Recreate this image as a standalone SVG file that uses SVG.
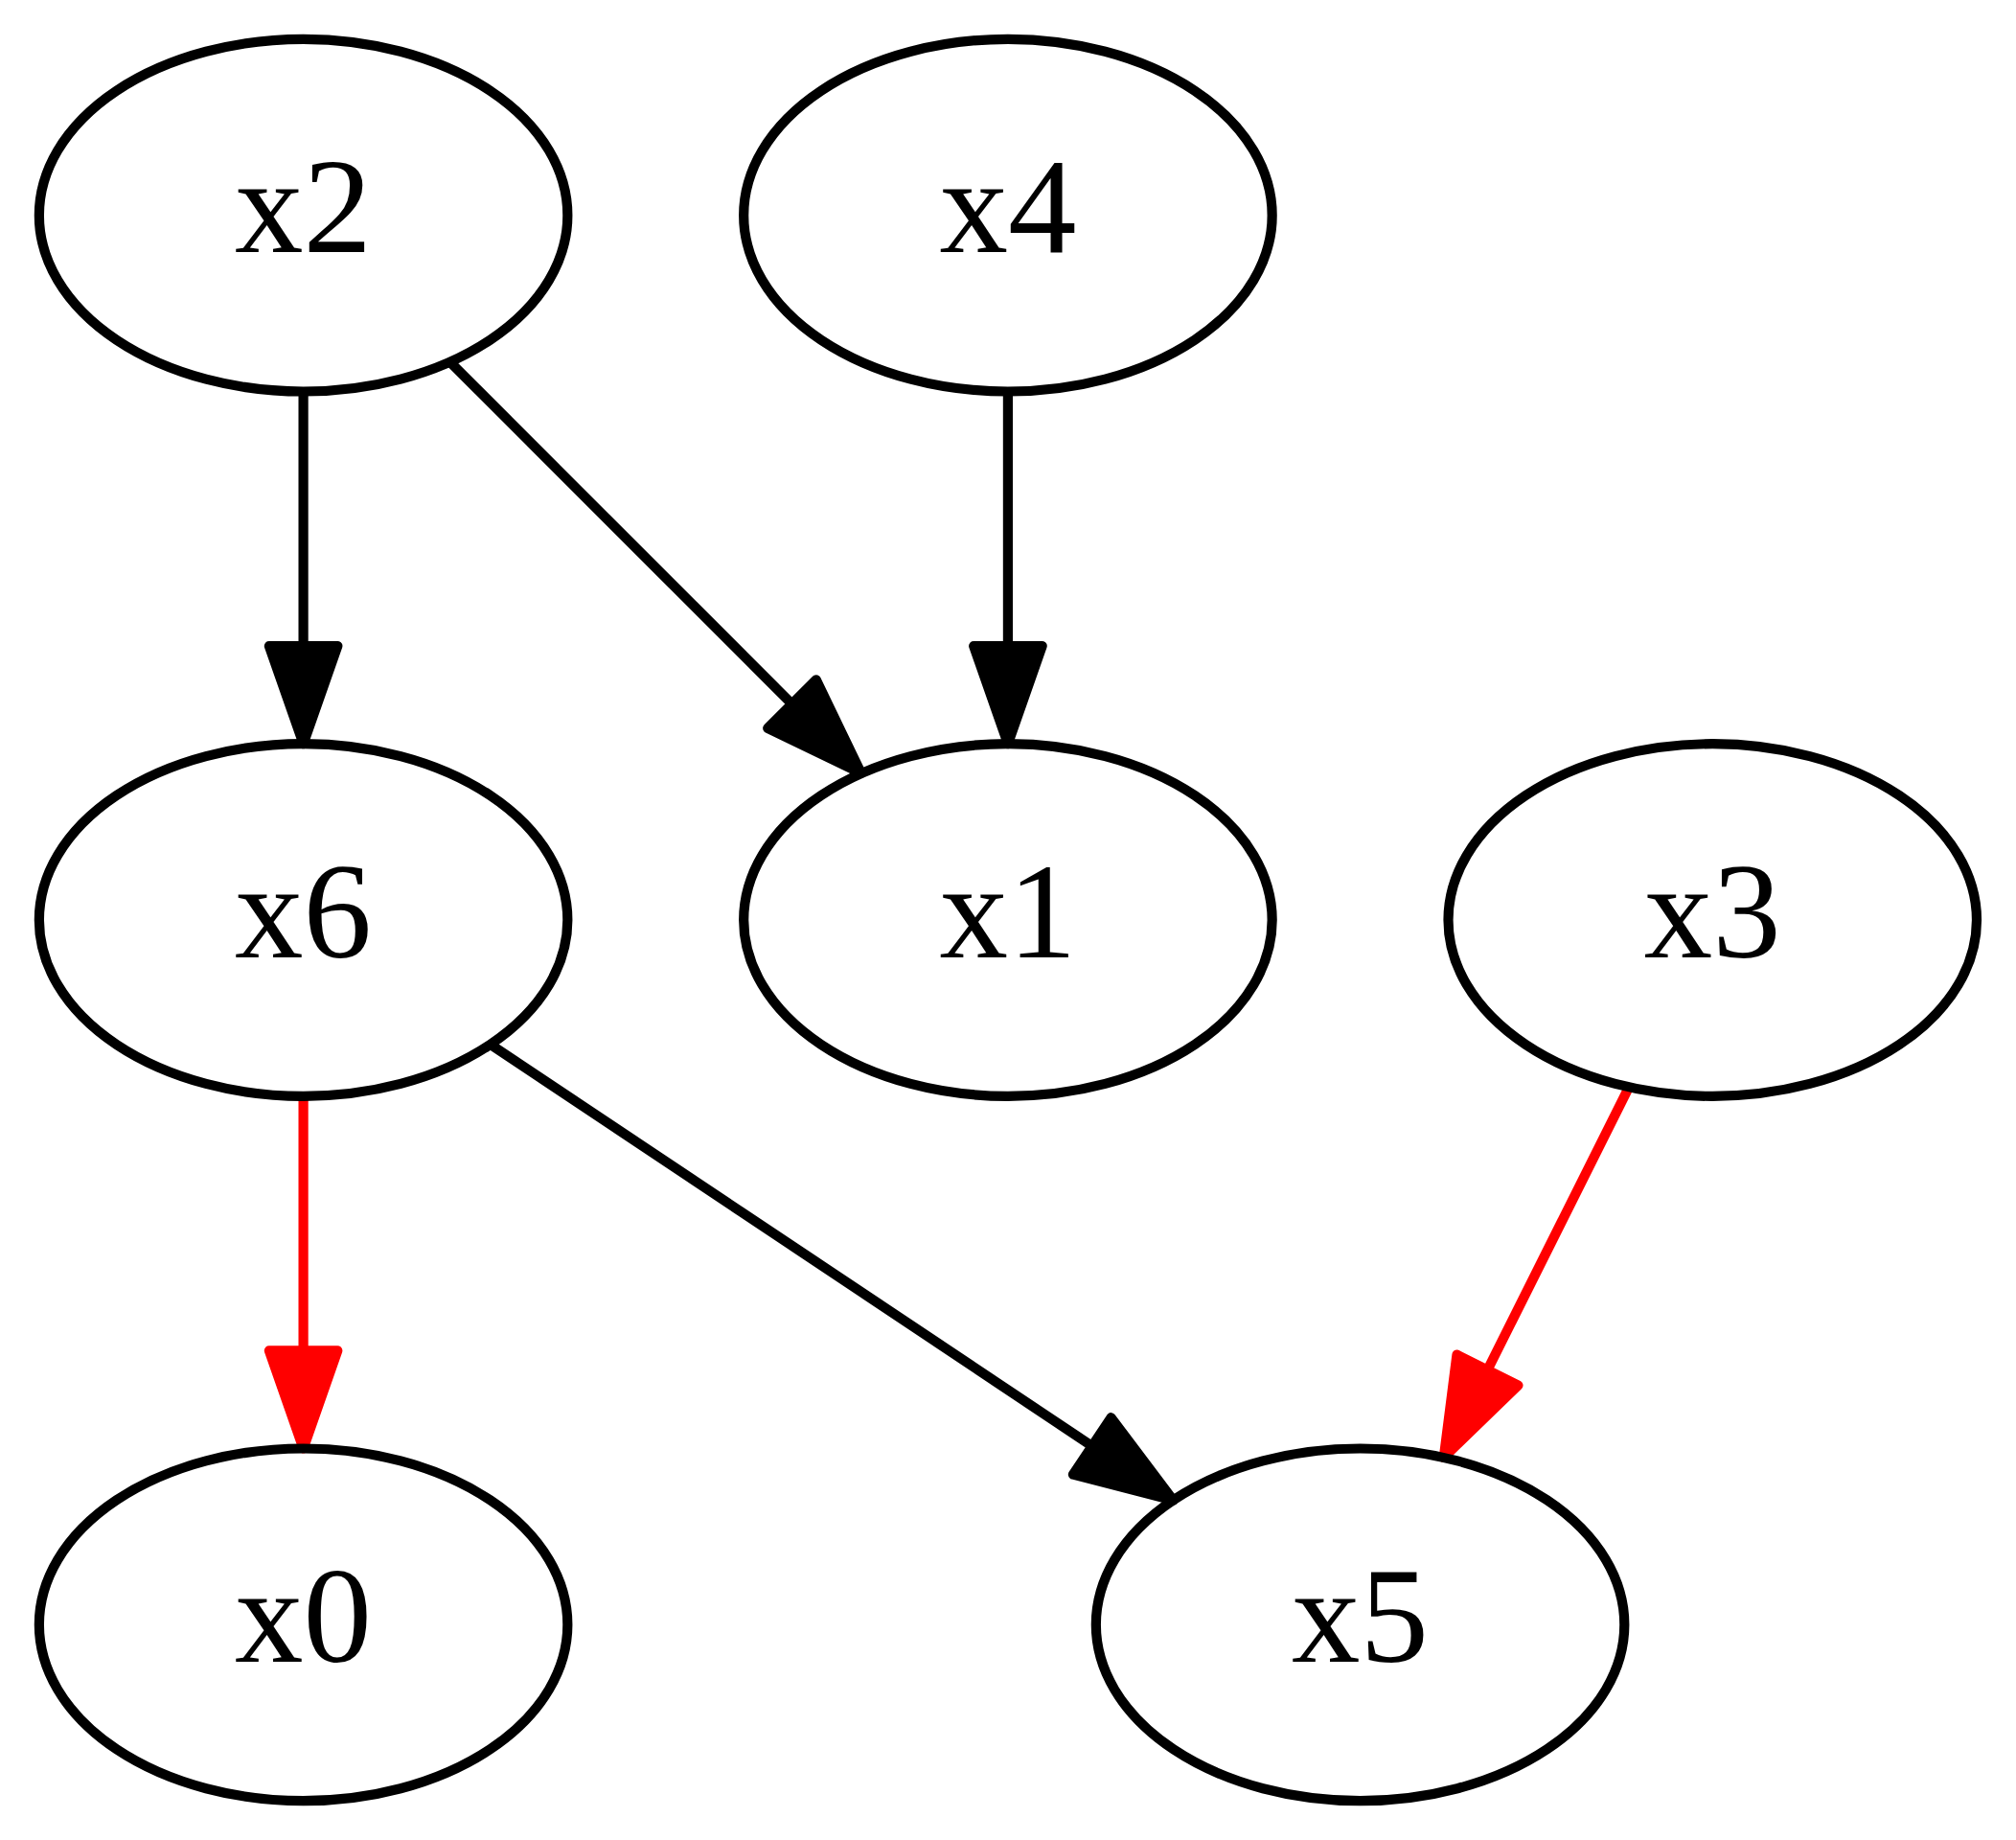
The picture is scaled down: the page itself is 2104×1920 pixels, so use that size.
<svg xmlns="http://www.w3.org/2000/svg" width="2104" height="1920" viewBox="0 0 2104 1920">
<style>
.node ellipse{fill:none;stroke:#000;stroke-width:1}
.node text{font-family:"Liberation Serif","Times New Roman",serif;font-size:14px;text-anchor:middle;fill:#000}
.edge path{fill:none;stroke-width:1}
.edge polygon{stroke-width:1;stroke-linejoin:round}
.blk path{stroke:#000}.blk polygon{fill:#000;stroke:#000}
.red path{stroke:#ff0000}.red polygon{fill:#ff0000;stroke:#ff0000}
</style>
<rect width="2104" height="1920" fill="#fff"/>
<g transform="scale(10.2128) translate(4 4)">
<g id="connectors">
<g class="edge blk" id="x2-x6"><path d="M27,36 L27,62"/><polygon points="23.5,62 27,72 30.5,62"/></g>
<g class="edge blk" id="x2-x1"><path d="M42,33 L76.93,67.93"/><polygon points="74.45,70.4 84,75 79.4,65.45"/></g>
<g class="edge blk" id="x4-x1"><path d="M99,36 L99,62"/><polygon points="95.5,62 99,72 102.5,62"/></g>
<g class="edge red" id="x6-x0"><path d="M27,108 L27,134"/><polygon points="23.5,134 27,144 30.5,134"/></g>
<g class="edge blk" id="x6-x5"><path d="M46.1,102.7 L107.6,143.75"/><polygon points="105.66,146.66 115.9,149.3 109.54,140.84"/></g>
<g class="edge red" id="x3-x5"><path d="M162.46,107.08 L148.01,135.98"/><polygon points="151.14,137.54 143.54,144.92 144.88,134.42"/></g>
</g>
<g id="x2" class="node"><ellipse cx="27" cy="18" rx="27" ry="18"/><text x="27" y="21.8">x2</text></g>
<g id="x4" class="node"><ellipse cx="99" cy="18" rx="27" ry="18"/><text x="99" y="21.8">x4</text></g>
<g id="x6" class="node"><ellipse cx="27" cy="90" rx="27" ry="18"/><text x="27" y="93.8">x6</text></g>
<g id="x1" class="node"><ellipse cx="99" cy="90" rx="27" ry="18"/><text x="99" y="93.8">x1</text></g>
<g id="x3" class="node"><ellipse cx="171" cy="90" rx="27" ry="18"/><text x="171" y="93.8">x3</text></g>
<g id="x0" class="node"><ellipse cx="27" cy="162" rx="27" ry="18"/><text x="27" y="165.8">x0</text></g>
<g id="x5" class="node"><ellipse cx="135" cy="162" rx="27" ry="18"/><text x="135" y="165.8">x5</text></g>
</g>
</svg>
